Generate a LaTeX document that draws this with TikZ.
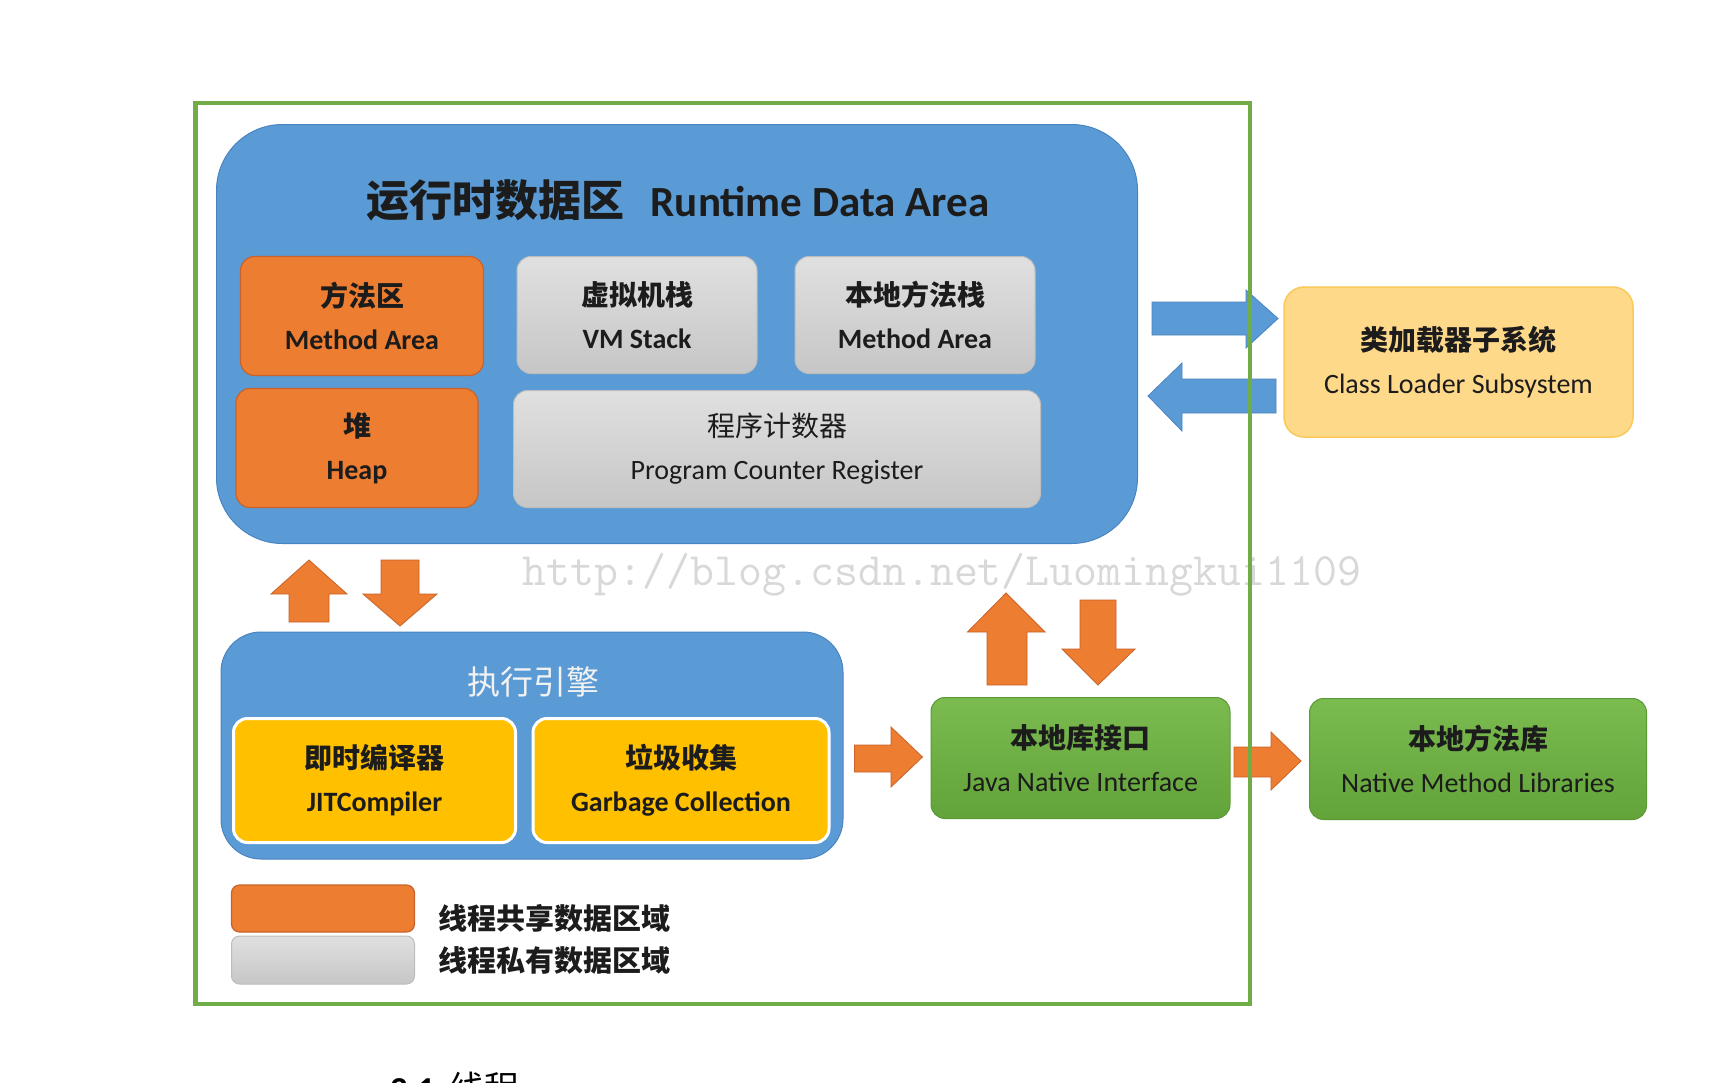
\documentclass[tikz,border=0pt]{standalone}
\usepackage{fontspec}
\setmainfont{Carlito}
\newfontfamily\cjk{Noto Sans CJK SC}
\definecolor{frame}{HTML}{70AD47}
\definecolor{bluefill}{HTML}{5B9BD5}
\definecolor{bluedraw}{HTML}{4A84C0}
\definecolor{orfill}{HTML}{ED7D31}
\definecolor{ordraw}{HTML}{C8632A}
\definecolor{graytop}{HTML}{E0E0E0}
\definecolor{graybot}{HTML}{C6C6C6}
\definecolor{graydraw}{HTML}{BDBDBD}
\definecolor{yelfill}{HTML}{FFC000}
\definecolor{grtop}{HTML}{7BBB50}
\definecolor{grbot}{HTML}{62A33A}
\definecolor{grdraw}{HTML}{5A9A35}
\definecolor{clfill}{HTML}{FFD98A}
\definecolor{cldraw}{HTML}{F9C95A}
\definecolor{txt}{HTML}{1C1C1C}
\definecolor{wm}{HTML}{D8D8D8}
\begin{document}
\begin{tikzpicture}[x=1pt,y=-1pt,
  box/.style={rounded corners=14pt, align=center, inner sep=0pt, text=txt,
    font=\fontsize{28}{43}\selectfont},
  orbox/.style={box, fill=orfill, draw=ordraw, line width=1.2pt},
  graybox/.style={box, top color=graytop, bottom color=graybot, draw=graydraw, line width=1pt},
  yelbox/.style={box, fill=yelfill, draw=white, line width=3pt},
  greenbox/.style={box, top color=grtop, bottom color=grbot, draw=grdraw, line width=1pt},
  clbox/.style={box, rounded corners=20pt, fill=clfill, draw=cldraw, line width=1.5pt},
  bigblue/.style={fill=bluefill, draw=bluedraw, line width=1pt},
  orarrow/.style={fill=orfill, draw=ordraw, line width=0.8pt, line join=miter},
  bluearrow/.style={fill=bluefill, draw=bluedraw, line width=0.8pt, line join=miter},
  legtext/.style={anchor=west, inner sep=0pt, text=txt, font=\cjk\bfseries\fontsize{29}{29}\selectfont}
]
\useasboundingbox (0,0) rectangle (1732,1082);
\fill[white] (0,0) rectangle (1732,1082);

% watermark
\node[inner sep=0pt, text=wm, font=\ttfamily\fontsize{46.5}{46.5}\selectfont] (wmk) at (942,575) {http://blog.csdn.net/Luomingkui1109};

% Runtime data area
\node[bigblue, rounded corners=66pt, minimum width=921, minimum height=419] (rda) at (677,334) {};
\node[inner sep=0pt, text=txt] (rdat) at (678,200)
  {{\cjk\bfseries\fontsize{43}{43}\selectfont 运行时数据区}\hspace{26pt}{\bfseries\fontsize{43}{43}\selectfont Runtime Data Area}};

\node[orbox, minimum width=243, minimum height=119] (ma) at (362,316)
  {{\cjk\bfseries 方法区}\\\bfseries Method Area};
\node[graybox, minimum width=240, minimum height=117] (vms) at (637,315)
  {{\cjk\bfseries 虚拟机栈}\\\bfseries VM Stack};
\node[graybox, minimum width=240, minimum height=117] (nms) at (915,315)
  {{\cjk\bfseries 本地方法栈}\\\bfseries Method Area};
\node[orbox, minimum width=242, minimum height=119] (heap) at (357,448)
  {{\cjk\bfseries 堆}\\\bfseries Heap};
\node[graybox, minimum width=527, minimum height=117] (pcr) at (777,449)
  {{\cjk 程序计数器}\\Program Counter Register};

% class loader
\node[clbox, minimum width=349, minimum height=150] (cls) at (1458.5,362)
  {{\cjk\bfseries 类加载器子系统}\\Class Loader Subsystem};

% execution engine
\node[bigblue, rounded corners=40pt, minimum width=622, minimum height=227] (exe) at (532,745.5) {};
\node[inner sep=0pt, text=white!95!black, font=\cjk\fontsize{33}{33}\selectfont] (exet) at (533,682) {执行引擎};
\node[yelbox, minimum width=282, minimum height=124] (jit) at (374.5,780.5)
  {{\cjk\bfseries 即时编译器}\\\bfseries JITCompiler};
\node[yelbox, minimum width=296, minimum height=124] (gc) at (681,780.5)
  {{\cjk\bfseries 垃圾收集}\\\bfseries Garbage Collection};

% native
\node[greenbox, minimum width=299, minimum height=121] (jni) at (1080.5,758)
  {{\cjk\bfseries 本地库接口}\\Java Native Interface};
\node[greenbox, minimum width=337, minimum height=121] (nml) at (1478,759)
  {{\cjk\bfseries 本地方法库}\\Native Method Libraries};

% blue block arrows
\draw[bluearrow] (1152,302) -- (1246,302) -- (1246,290) -- (1278,318.5) -- (1246,348) -- (1246,335) -- (1152,335) -- cycle;
\draw[bluearrow] (1276,379) -- (1182,379) -- (1182,363) -- (1148,396) -- (1182,431) -- (1182,413) -- (1276,413) -- cycle;

% orange block arrows
\draw[orarrow] (309,560) -- (347,594) -- (329,594) -- (329,622) -- (289,622) -- (289,594) -- (271,594) -- cycle;
\draw[orarrow] (381,560) -- (419,560) -- (419,594) -- (437,594) -- (400,626) -- (363,594) -- (381,594) -- cycle;
\draw[orarrow] (854.5,745) -- (891,745) -- (891,727) -- (922.5,757) -- (891,787) -- (891,772) -- (854.5,772) -- cycle;
\draw[orarrow] (1006,593) -- (1045,632) -- (1027,632) -- (1027,685) -- (987,685) -- (987,632) -- (967.5,632) -- cycle;
\draw[orarrow] (1080,600) -- (1116,600) -- (1116,649) -- (1135,649) -- (1098,685) -- (1062,649) -- (1080,649) -- cycle;
\draw[orarrow] (1234,747) -- (1271,747) -- (1271,732) -- (1301,761) -- (1271,790) -- (1271,777) -- (1234,777) -- cycle;

% legend
\node[orbox, rounded corners=8pt, minimum width=183, minimum height=47] (legor) at (323,908.5) {};
\node[graybox, rounded corners=8pt, minimum width=183, minimum height=48] (leggr) at (323,960) {};
\node[legtext] (legort) at (438,918) {线程共享数据区域};
\node[legtext] (leggrt) at (438,960) {线程私有数据区域};

% outer frame
\draw[frame, line width=4.5pt] (195.5,103) rectangle (1250,1004);

% cut-off heading at the bottom (cut by the page edge, as in the reference)
\node[anchor=north west, inner sep=0pt, text=black, font=\fontsize{35}{35}\selectfont] (sec) at (390,1072)
  {\bfseries 2.1\hspace{14pt}\mdseries\cjk 线程};
\end{tikzpicture}
\end{document}
